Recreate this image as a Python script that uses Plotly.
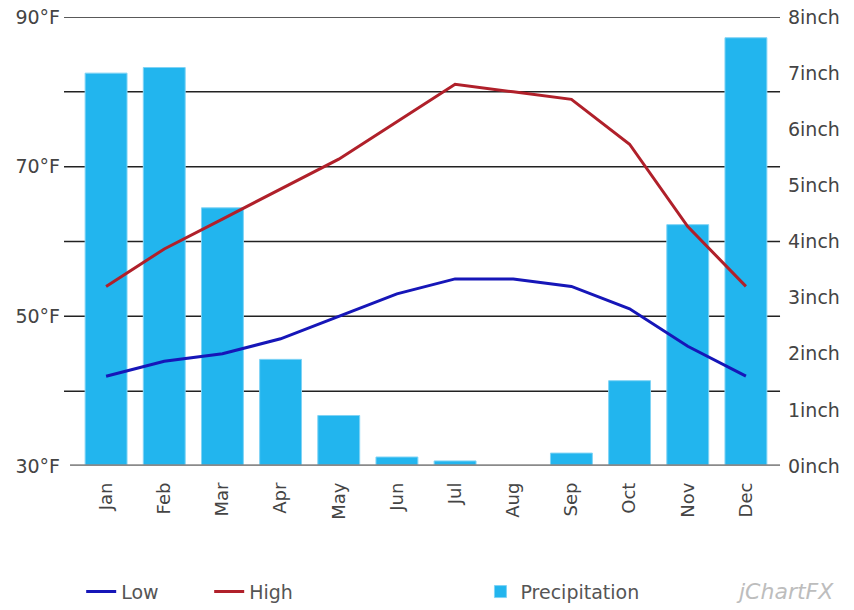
import plotly.graph_objects as go

months = ["Jan", "Feb", "Mar", "Apr", "May", "Jun", "Jul", "Aug", "Sep", "Oct", "Nov", "Dec"]
low_f = [42, 44, 45, 47, 50, 53, 55, 55, 54, 51, 46, 42]
high_f = [54, 59, 63, 67, 71, 76, 81, 80, 79, 73, 62, 54]
precip_in = [7.0, 7.1, 4.6, 1.9, 0.9, 0.16, 0.09, 0.0, 0.23, 1.52, 4.3, 7.63]

temp_ticks = [30, 50, 70, 90]
temp_ticktext = ["30°F", "50°F", "70°F", "90°F"]
precip_ticks = list(range(0, 9))
precip_ticktext = [f"{v}inch" for v in precip_ticks]
grid_levels = [40, 50, 60, 70, 80, 90]

FONT = "DejaVu Sans, Verdana, sans-serif"
TXT = "#444444"

fig = go.Figure()
# precipitation on primary axis (drawn first, below), temperatures on overlay axis (above)
fig.add_trace(go.Bar(
    x=months, y=precip_in, name="Precipitation", yaxis="y",
    marker=dict(color="#22b5ee", line=dict(color="#7fd3f5", width=1)),
    legend="legend2",
))
fig.add_trace(go.Scatter(
    x=months, y=low_f, name="Low", mode="lines", yaxis="y2",
    line=dict(color="#1616b8", width=3), legend="legend",
))
fig.add_trace(go.Scatter(
    x=months, y=high_f, name="High", mode="lines", yaxis="y2",
    line=dict(color="#b0202a", width=3), legend="legend",
))

shapes = []
for g in grid_levels:
    shapes.append(dict(type="line", xref="paper", yref="y2", x0=-0.0186, x1=1.0072,
                       y0=g, y1=g, line=dict(color="#222222", width=1.5), layer="below"))
shapes.append(dict(type="line", xref="paper", yref="y2", x0=-0.01, x1=1.0072,
                   y0=30, y1=30, line=dict(color="#8a8a8a", width=3.5), layer="above"))

fig.update_layout(
    width=854, height=610,
    margin=dict(l=77, r=79, t=17, b=144, autoexpand=False),
    paper_bgcolor="white", plot_bgcolor="white",
    font=dict(family=FONT, size=19, color=TXT),
    bargap=0.28,
    shapes=shapes,
    xaxis=dict(
        type="category", range=[-0.5, 11.5], showgrid=False, showline=False,
        zeroline=False, tickangle=-90, ticks="", ticklabelstandoff=12,
        automargin=False, tickfont=dict(size=18, family=FONT, color=TXT),
    ),
    yaxis=dict(
        range=[0, 8], side="right", tickvals=precip_ticks,
        ticktext=precip_ticktext, showgrid=False, zeroline=False, showline=False,
        ticks="", ticklabelstandoff=12, automargin=False,
        tickfont=dict(size=19, family=FONT, color=TXT),
    ),
    yaxis2=dict(
        range=[30, 90], overlaying="y", side="left", tickvals=temp_ticks,
        ticktext=temp_ticktext, showgrid=False, zeroline=False, showline=False,
        ticks="", ticklabelstandoff=16, automargin=False,
        tickfont=dict(size=19, family=FONT, color=TXT),
    ),
    legend=dict(orientation="h", x=0.006, xanchor="left", y=-0.28, yanchor="middle",
                entrywidth=83, entrywidthmode="pixels",
                font=dict(size=19, family=FONT, color="#555555"), bgcolor="rgba(0,0,0,0)"),
    legend2=dict(orientation="h", x=0.578, xanchor="left", y=-0.28, yanchor="middle",
                 font=dict(size=19, family=FONT, color="#555555"), bgcolor="rgba(0,0,0,0)"),
    annotations=[dict(text="<i>jChartFX</i>", xref="paper", yref="paper",
                      x=1.088, xanchor="right", y=-0.28, yanchor="middle",
                      showarrow=False, font=dict(size=22, family=FONT, color="#bdbdbd"))],
)

fig.write_html("out.html")
